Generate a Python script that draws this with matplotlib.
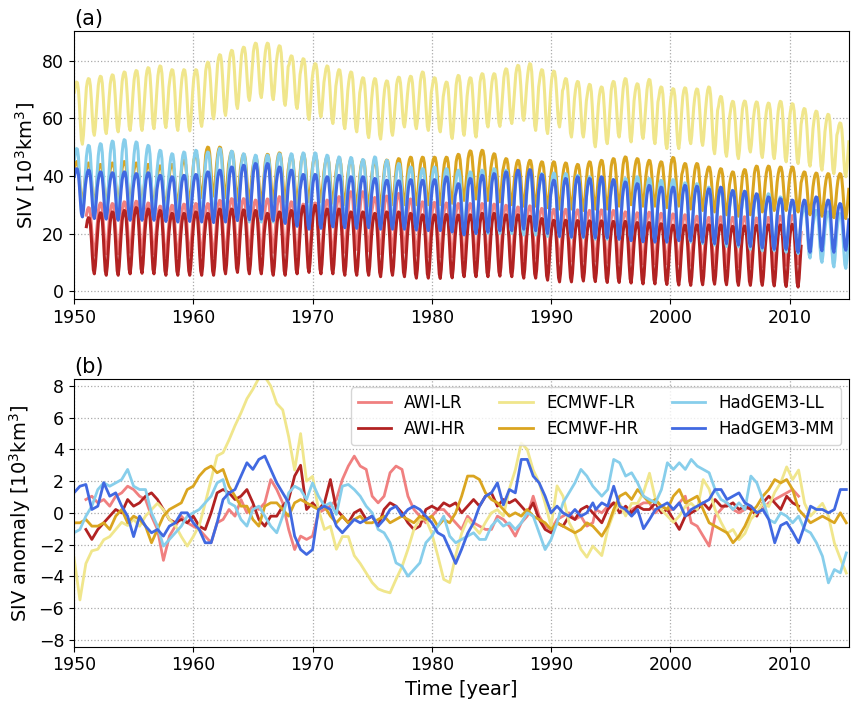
import numpy as np
import matplotlib
matplotlib.use("Agg")
import matplotlib.pyplot as plt

# ---------------- panel (a): annual maxima / minima of SIV [10^3 km^3] ----------------
years = np.arange(1950, 2015)
years_awi = np.arange(1951, 2011)

# normalised mean seasonal cycle (Jan..Dec), 1 = annual max, 0 = annual min
season = np.array([0.84, 0.95, 1.0, 0.99, 0.88, 0.63, 0.32, 0.07, 0.0, 0.14, 0.41, 0.65])

ecmwf_lr_max = [72.6, 73.8, 74.6, 75.1, 76.1, 76.6, 77.6, 78.2, 76.9, 76.9,
                76.9, 79.5, 82.1, 83.6, 84.7, 86.1, 86.1, 85.2, 81.7, 80.7,
                79.0, 78.2, 76.9, 76.1, 74.1, 73.8, 73.0, 74.3, 74.6, 76.1,
                74.1, 72.6, 74.9, 74.1, 75.5, 75.5, 77.2, 78.4, 79.0, 76.9,
                76.4, 73.8, 72.8, 71.8, 70.9, 72.8, 73.8, 72.0, 73.5, 70.9,
                70.3, 70.6, 70.2, 70.9, 67.6, 65.9, 66.0, 65.7, 65.3, 65.9,
                65.1, 63.4, 62.5, 61.4, 58.4]
ecmwf_lr_min = [51.0, 54.1, 54.7, 55.3, 55.8, 55.8, 56.4, 56.8, 55.8, 55.6,
                57.2, 59.8, 61.0, 63.4, 66.2, 67.2, 66.5, 64.5, 63.4, 59.6,
                60.5, 58.2, 56.4, 55.3, 53.3, 52.8, 54.1, 57.0, 56.4, 55.8,
                55.3, 53.0, 54.1, 53.5, 57.0, 57.2, 58.2, 59.3, 55.8, 54.7,
                57.0, 53.5, 53.5, 50.1, 51.2, 53.5, 51.8, 53.0, 51.2, 49.5,
                49.5, 51.2, 50.6, 47.7, 46.8, 46.0, 48.3, 46.4, 46.0, 44.9,
                44.3, 43.4, 42.0, 40.8, 39.7]

ecmwf_hr_max = [45.0, 44.5, 44.0, 44.5, 45.0, 44.5, 44.0, 43.5, 44.0, 45.5,
                47.5, 50.0, 50.0, 48.5, 47.5, 46.5, 47.5, 48.0, 47.0, 47.5,
                47.0, 46.5, 46.0, 45.5, 45.5, 45.0, 45.5, 46.0, 46.5, 46.5,
                46.5, 46.5, 47.5, 48.7, 48.9, 47.7, 46.0, 45.4, 45.4, 44.9,
                44.9, 44.5, 44.0, 44.9, 45.4, 46.0, 46.6, 46.0, 45.4, 44.9,
                46.4, 44.3, 44.3, 43.1, 42.5, 41.4, 42.2, 43.4, 43.4, 43.1,
                43.1, 41.4, 41.0, 40.8, 40.8]
ecmwf_hr_min = [30.5, 30.0, 30.0, 30.5, 30.5, 30.0, 29.5, 29.0, 30.0, 31.0,
                32.5, 33.0, 32.5, 31.5, 31.0, 30.5, 31.0, 31.0, 30.5, 31.0,
                31.0, 30.5, 30.0, 29.5, 29.5, 29.5, 30.0, 30.0, 30.0, 30.0,
                30.0, 30.5, 31.5, 32.0, 31.5, 31.0, 30.0, 29.5, 29.5, 29.0,
                28.5, 28.5, 28.0, 28.5, 28.5, 29.5, 30.0, 29.5, 29.5, 29.0,
                29.5, 28.5, 28.0, 27.5, 26.5, 26.0, 26.5, 27.5, 28.0, 28.0,
                27.5, 26.5, 26.0, 25.5, 25.2]

hadgem_ll_max = [49.5, 50.6, 51.2, 52.1, 52.6, 51.8, 50.6, 48.9, 47.7, 48.3,
                 48.9, 48.3, 49.5, 48.6, 47.7, 47.2, 47.2, 47.7, 47.7, 48.0,
                 48.0, 47.2, 46.6, 46.4, 45.7, 46.6, 45.4, 44.3, 43.1, 42.5,
                 43.1, 42.5, 42.0, 41.4, 42.0, 42.5, 42.0, 41.4, 41.4, 40.8,
                 41.0, 40.8, 40.2, 39.7, 39.1, 38.7, 39.1, 39.7, 39.1, 38.5,
                 38.7, 37.6, 37.3, 36.1, 35.5, 35.0, 33.8, 33.2, 33.8, 32.7,
                 30.9, 29.2, 28.0, 27.5, 26.9]
hadgem_ll_min = [25.8, 25.5, 25.5, 25.0, 25.0, 25.5, 25.0, 24.5, 24.5, 25.0,
                 25.0, 25.0, 24.5, 24.5, 24.0, 24.0, 24.0, 24.0, 23.5, 23.5,
                 23.5, 23.5, 23.0, 23.0, 23.0, 22.5, 22.5, 22.0, 21.5, 22.0,
                 22.0, 21.5, 21.0, 20.0, 20.0, 20.0, 20.0, 19.5, 19.5, 19.0,
                 18.8, 18.5, 18.5, 18.0, 18.0, 18.0, 18.0, 17.5, 17.5, 17.5,
                 17.7, 17.0, 16.5, 16.0, 15.5, 15.4, 14.5, 14.0, 14.0, 13.5,
                 13.0, 11.5, 10.0, 8.4, 7.9]

hadgem_mm_max = [42.5, 42.0, 41.4, 41.1, 41.4, 40.8, 41.1, 40.2, 39.7, 40.2,
                 40.5, 41.4, 42.0, 43.1, 43.7, 44.3, 44.3, 43.1, 42.0, 40.5,
                 40.5, 39.7, 40.2, 39.7, 39.7, 39.1, 38.5, 38.3, 38.7, 38.5,
                 38.7, 39.7, 37.3, 39.1, 40.2, 40.8, 41.4, 42.0, 42.2, 40.5,
                 38.5, 39.1, 39.7, 39.1, 39.7, 38.7, 37.9, 37.3, 36.7, 36.1,
                 36.1, 36.7, 36.4, 35.5, 36.1, 34.9, 34.7, 33.8, 32.7, 32.1,
                 31.6, 31.6, 32.7, 31.6, 30.4]
hadgem_mm_min = [25.8, 25.2, 25.0, 24.6, 24.6, 24.6, 24.6, 24.2, 24.0, 24.2,
                 24.0, 23.8, 24.0, 24.5, 24.8, 25.0, 24.5, 23.5, 22.5, 21.5,
                 21.8, 22.3, 22.0, 21.8, 22.0, 21.5, 21.5, 21.5, 21.2, 21.0,
                 21.0, 20.5, 19.5, 20.0, 20.5, 21.0, 21.0, 21.5, 21.0, 20.0,
                 19.0, 18.8, 18.8, 18.5, 18.5, 18.0, 17.5, 17.1, 17.0, 17.0,
                 17.5, 17.5, 17.0, 16.5, 16.5, 16.0, 15.5, 15.0, 14.5, 14.5,
                 13.5, 13.5, 14.0, 13.5, 14.2]

awi_lr_max = [29.0, 30.6, 30.4, 31.0, 31.2, 30.6, 29.5, 29.8, 30.2, 30.4,
              30.4, 31.5, 32.1, 32.1, 31.6, 32.0, 32.8, 31.0, 30.2, 30.6,
              31.6, 32.8, 34.5, 34.5, 32.5, 33.0, 33.9, 32.0, 31.0, 30.8,
              30.6, 30.4, 30.4, 30.4, 30.2, 29.8, 29.2, 29.6, 28.7, 28.4,
              28.4, 28.2, 28.0, 28.2, 28.0, 27.5, 27.2, 27.4, 27.0, 26.8,
              26.5, 26.0, 25.6, 25.8, 25.6, 25.8, 25.4, 25.6, 26.0, 26.2]
awi_lr_min = [12.5, 13.0, 13.0, 13.5, 13.5, 13.0, 12.0, 12.0, 12.5, 12.5,
              12.0, 12.5, 13.0, 13.0, 13.0, 13.5, 13.5, 12.5, 12.0, 12.0,
              12.5, 13.5, 14.5, 14.0, 13.0, 13.5, 13.5, 12.5, 12.0, 12.0,
              12.0, 11.5, 11.5, 11.5, 11.0, 11.0, 11.0, 11.5, 10.5, 10.5,
              10.5, 10.5, 10.5, 10.0, 10.0, 10.0, 9.5, 9.5, 9.5, 9.5,
              9.0, 8.5, 8.5, 8.5, 8.5, 8.5, 8.5, 8.5, 9.0, 9.5]

awi_hr_max = [25.5, 27.2, 27.5, 28.0, 29.0, 28.5, 28.0, 27.0, 27.0, 27.5,
              27.0, 28.5, 28.5, 28.2, 28.0, 27.0, 27.5, 28.0, 29.5, 29.8,
              28.5, 28.5, 27.5, 27.5, 27.0, 27.5, 27.5, 27.0, 26.5, 26.5,
              26.6, 26.4, 26.5, 27.0, 27.0, 26.5, 26.5, 26.0, 25.2, 24.6,
              24.6, 24.5, 24.4, 24.4, 24.2, 24.2, 23.8, 23.8, 23.4, 22.9,
              22.9, 23.0, 23.0, 23.0, 22.5, 22.6, 22.8, 23.0, 23.0, 23.2]
awi_hr_min = [6.0, 5.5, 5.5, 6.0, 6.2, 6.0, 5.5, 5.5, 5.5, 5.5,
              5.5, 6.0, 6.5, 6.0, 6.0, 5.5, 5.5, 6.0, 6.5, 6.0,
              6.0, 5.5, 5.5, 5.5, 5.0, 5.5, 5.0, 4.5, 4.5, 4.4,
              4.6, 5.0, 5.0, 5.0, 5.2, 5.0, 4.5, 4.5, 3.8, 3.2,
              3.2, 3.5, 3.3, 3.0, 3.0, 2.8, 2.5, 2.5, 2.3, 2.1,
              2.0, 2.2, 2.4, 2.2, 2.0, 2.0, 2.0, 1.8, 1.6, 1.4]

# ---------------- panel (b): SIV anomalies, half-yearly readings ----------------
t_anom = np.concatenate([np.arange(1950, 1993.51, 0.5), np.arange(1993.75, 2014.76, 0.5)])
t_anom_awi = t_anom[(t_anom >= 1951) & (t_anom <= 2011)]

ecmwf_lr_anom = [
    -2.8, -5.5, -3.2, -2.4, -2.3, -1.7, -1.5, -1.05, -0.6, -0.8,
    -0.4, -0.85, -0.2, 0.2, 0.6, 0.2, -0.4, -0.8, -1.5, -2.1,
    -1.5, -0.8, 0.6, 2.1, 3.6, 3.8, 4.6, 5.5, 6.3, 7.2,
    7.8, 8.5, 8.6, 8.0, 6.9, 6.5, 4.8, 2.7, 5.0, 2.0,
    2.3, 0.2, -1.05, -0.85, -2.3,
    -1.5, -1.5, -2.7, -3.2, -3.8, -4.4, -4.8, -4.95, -5.05, -4.2,
    -3.4, -2.3, -1.05, -0.4, -0.4, -1.3, -2.7, -4.2, -4.4, -2.7,
    -1.3, -0.4, -0.85, -1.3, -0.6, 0.0, 0.2, -0.2, 1.5, 2.7,
    4.4, 4.0, 2.7, 1.9, 0.6, -0.85, 1.7, 1.05, -0.6, -1.3,
    -2.3, -2.8, -2.1,
    -2.3, -2.7, -1.05, 0.0, 0.6, -0.2, 0.6, 0.6, 1.3, 2.5,
    0.85, 0.2, -0.2, -0.6, -0.2, 0.4, 0.6, 0.2, 2.1, 1.5,
    0.2, -0.6, -1.3, -1.05, -1.7, -1.3, -0.4, 0.0, 0.6, 0.4,
    1.3, 1.9, 2.9, 2.1, 2.7, 0.6, -0.2, 0.2, 0.6, -0.2,
    -1.9, -2.9, -3.8]

ecmwf_hr_anom = [
    -0.63, -0.63, -0.42, -0.84, -0.84, -0.63, -1.05, -0.21, 0.21, -0.63,
    -0.21, -0.42, -0.84, -1.89, -1.05, -0.21, 0.21, 0.42, 0.63, 1.47,
    1.68, 2.32, 2.74, 2.95, 2.53, 2.74, 1.68, 1.05, 0.42, 0.42,
    -0.42, -0.84, 0.42, 0.63, 0.63, 0.21, -0.21, 0.63, 0.84, 0.63,
    0.42, 0.21, 0.42, -0.21, -0.63,
    -0.21, -0.63, -0.42, -0.21, -0.63, -0.63, -0.42, -0.21, -0.63, -0.42,
    -0.21, -0.42, -0.63, -0.21, -0.42, -0.21, -0.84, -0.42, -0.63, 0.0,
    1.05, 2.32, 2.32, 2.1, 1.26, 0.84, 0.63, 0.21, -0.21, 0.0,
    -0.21, 0.21, -0.21, -0.42, -0.63, -1.05, -0.63, -0.84, -1.05, -1.26,
    -1.05, -0.63, -0.84,
    -1.05, -1.47, -0.84, 0.21, 1.05, 1.26, 0.84, 1.47, 1.05, 0.63,
    0.84, 0.42, 0.21, 1.05, 1.47, 0.63, 0.84, 1.05, 0.21, -0.63,
    -0.84, -1.05, -1.26, -1.89, -1.47, -0.84, 0.0, 0.42, 1.05, 1.47,
    2.1, 1.89, 2.1, 1.47, 0.21, -0.21, -0.63, -0.42, -0.21, -0.42,
    -0.63, 0.0, -0.63]

hadgem_ll_anom = [
    -1.26, -1.05, -0.21, 0.42, 1.47, 1.89, 1.68, 1.89, 2.1, 2.74,
    1.68, 1.47, 1.47, 0.0, -0.84, -2.1, -1.68, -1.26, -0.84, -0.21,
    0.0, 0.21, 0.63, 1.05, 1.89, 2.1, 0.63, 0.42, -0.42, -0.84,
    0.21, 0.42, -0.21, -0.84, -1.26, -0.21, 1.26, 1.68, 1.47, 0.84,
    1.89, 1.05, 0.42, 0.63, -0.1,
    1.68, 1.79, 1.47, 1.05, 0.42, 0.0, -1.05, -1.26, -1.89, -3.16,
    -3.37, -4.0, -3.58, -3.16, -1.89, -1.47, -0.84, -0.21, -1.47, -1.89,
    -1.68, -1.47, -1.26, -1.68, -1.68, -0.84, -0.42, -0.84, -0.63, -1.05,
    -0.63, 0.0, -0.21, -1.26, -2.32, -1.68, -0.63, 0.63, 1.26, 1.89,
    2.74, 2.32, 1.68,
    1.47, 1.05, 1.47, 3.37, 3.16, 2.32, 2.53, 1.89, 1.05, 0.84,
    0.63, 1.47, 3.16, 2.74, 3.16, 2.74, 3.37, 2.95, 2.74, 2.53,
    1.47, 0.84, 0.63, 0.21, 0.63, 0.21, 2.32, 1.89, 0.84, -0.42,
    -0.63, 0.0, -0.21, -0.63, -0.21, -1.05, -1.26, -1.89, -2.74, -4.42,
    -3.58, -3.79, -2.53]

hadgem_mm_anom = [
    1.26, 1.68, 1.79, 0.21, 0.42, 1.9, 1.05, 1.26, 0.42, -0.21,
    -1.5, -0.21, -0.84, -1.26, -1.05, -1.47, -0.84, -0.63, 0.0, 0.0,
    -0.63, -1.05, -1.89, -1.89, -0.63, 0.84, 1.26, 1.47, 2.32, 3.16,
    2.74, 3.37, 3.58, 2.74, 1.89, 1.26, 0.63, -1.47, -2.32, -2.63,
    -2.32, 0.21, 0.42, 0.21, -0.84,
    -1.26, -0.84, -0.42, -0.63, -0.42, -0.21, -0.84, -0.42, 0.21, 0.42,
    -0.21, 0.21, 0.42, 0.21, -0.21, -0.63, -1.26, -1.47, -2.32, -3.2,
    -2.3, -1.3, -0.63, 0.42, 1.05, 1.26, 1.89, 0.5, 1.47, 1.26,
    3.37, 3.37, 2.32, 1.89, 1.05, 0.0, 0.42, 0.0, -0.21, 0.21,
    -0.21, 0.0, 0.63,
    0.21, 0.63, 0.42, 1.68, 0.42, 0.21, -0.21, 0.21, -1.0, -0.42,
    0.21, 0.42, 0.63, 0.21, 0.63, -0.21, 0.21, 0.42, 0.63, 0.84,
    1.47, 1.47, 0.84, 1.05, 1.26, 0.63, 0.42, 0.0, 0.21, -0.42,
    -1.89, -0.8, -0.6, -1.2, -1.89, -0.8, 0.42, 0.21, 0.21, 0.0,
    0.21, 1.47, 1.47]

awi_lr_anom = [
    0.84, 1.05, 0.63, 0.84, 0.42, 1.05, 1.26, 1.68, 1.47, 1.05,
    0.84, -0.21, -1.05, -3.0, -1.47, -0.84, -0.21, -0.63, -0.84, -1.05,
    -1.47, -1.89, -0.63, -0.42, 0.21, -0.21, 0.84, 0.0, 0.42, 0.21,
    0.63, 2.1, 1.47, 0.63, -1.05, -2.32, -1.47, -1.68, -1.47, 0.0,
    0.21, 0.42, 0.84,
    2.1, 2.95, 3.58, 2.95, 2.74, 1.05, 0.63, 1.05, 2.53, 2.95,
    2.74, 1.05, 0.21, -0.21, -0.63, -0.21, 0.21, 0.21, -0.21, -0.63,
    -1.05, -0.21, -0.63, -0.84, -1.05, -1.05, -0.21, -0.42, -0.84, -1.47,
    -0.63, -0.21, 1.05, -0.21, -0.84, -1.05, -0.42, -0.21, 0.0, -0.42,
    -0.21, -0.84, -0.63,
    0.21, 0.0, 0.42, 0.63, 0.42, 0.0, 0.21, 0.42, 0.63, 0.63,
    0.0, 0.42, 0.21, 0.21, 0.63, 1.05, -0.63, -0.84, -1.47, -2.1,
    -0.21, 0.21, 0.63, 0.21, 0.0, 0.21, 0.42, 0.0, 0.21, 0.63,
    0.84, 1.05, 1.26, 1.47, 1.05]

awi_hr_anom = [
    -1.05, -1.68, -1.05, -0.63, -0.21, 0.21, 0.0, 0.84, 0.42, 0.63,
    1.05, 1.26, 0.84, 0.21, -0.42, -0.63, -0.42, -0.63, -0.21, -0.84,
    -1.05, 0.0, 1.26, 1.47, 1.26, 0.84, 1.05, 1.47, 0.63, -0.42,
    -0.84, -0.21, -0.21, 0.42, 0.84, 2.32, 3.0, 0.21, 0.63, 0.21,
    0.63, 2.1, 0.21,
    -0.21, -0.63, 0.0, 0.21, -0.42, -0.21, -0.84, 0.21, 0.63, 0.42,
    0.0, -0.63, -1.05, -0.84, 0.21, 0.42, 0.21, 0.63, 0.42, 0.63,
    0.0, 0.42, 0.84, 0.42, 1.05, 1.26, 0.42, 0.84, 0.63, 0.84,
    0.42, 0.0, 0.63, -0.42, -1.05, -1.26, -0.63, -0.84, -0.21, -0.42,
    0.21, 0.42, 0.0,
    -0.21, -0.63, 0.21, 0.63, 0.0, 0.42, 0.0, 0.42, 0.21, 0.21,
    0.63, 0.0, 0.21, -0.42, -1.05, -0.21, 0.0, 0.21, 0.63, 0.21,
    0.84, 0.42, 0.42, 0.63, 0.21, 0.42, 0.21, -0.21, 0.63, 1.05,
    0.63, 0.21, 1.05, 0.63, 0.42]

labels = ["AWI-LR", "AWI-HR", "ECMWF-LR", "ECMWF-HR", "HadGEM3-LL", "HadGEM3-MM"]
colors = ["lightcoral", "firebrick", "khaki", "goldenrod", "skyblue", "royalblue"]


def monthly(yrs, vmax, vmin):
    vmax = np.asarray(vmax)
    vmin = np.asarray(vmin)
    t = (yrs[:, None] + (np.arange(12) + 0.5) / 12.0).ravel()
    v = (vmin[:, None] + (vmax - vmin)[:, None] * season[None, :]).ravel()
    return t, v


top_series = [
    monthly(years_awi, awi_lr_max, awi_lr_min),
    monthly(years_awi, awi_hr_max, awi_hr_min),
    monthly(years, ecmwf_lr_max, ecmwf_lr_min),
    monthly(years, ecmwf_hr_max, ecmwf_hr_min),
    monthly(years, hadgem_ll_max, hadgem_ll_min),
    monthly(years, hadgem_mm_max, hadgem_mm_min),
]
bot_series = [
    (t_anom_awi, awi_lr_anom), (t_anom_awi, awi_hr_anom),
    (t_anom, ecmwf_lr_anom), (t_anom, ecmwf_hr_anom),
    (t_anom, hadgem_ll_anom), (t_anom, hadgem_mm_anom),
]

plt.rcParams["font.family"] = "DejaVu Sans"
fig = plt.figure(figsize=(8.59, 7.07), dpi=100)
ax1 = fig.add_axes([0.0861, 0.5767, 0.9026, 0.3795])
ax2 = fig.add_axes([0.0861, 0.0853, 0.9026, 0.3787])

for (t, v), c, lab in zip(top_series, colors, labels):
    ax1.plot(t, v, color=c, lw=2.2, label=lab)
for (t, v), c, lab in zip(bot_series, colors, labels):
    ax2.plot(t, v, color=c, lw=2.0, label=lab)

for ax in (ax1, ax2):
    ax.set_xlim(1950, 2015)
    ax.grid(True, ls=":", color="#aaaaaa", lw=0.9)
    ax.tick_params(labelsize=12.5)

ax1.set_yticks([0, 20, 40, 60, 80])
ax2.set_ylim(-8.45, 8.45)
ax2.set_yticks(np.arange(-8, 9, 2))

ax1.set_ylabel("SIV [10$^3$km$^3$]", fontsize=14)
ax2.set_ylabel("SIV anomaly [10$^3$km$^3$]", fontsize=14)
ax2.set_xlabel("Time [year]", fontsize=14)
ax1.set_title("(a)", loc="left", fontsize=15, pad=4)
ax2.set_title("(b)", loc="left", fontsize=15, pad=4)

ax2.legend(loc="upper right", ncol=3, fontsize=12, handlelength=2.0, columnspacing=2.0)

fig.savefig("out.png", dpi=100)
